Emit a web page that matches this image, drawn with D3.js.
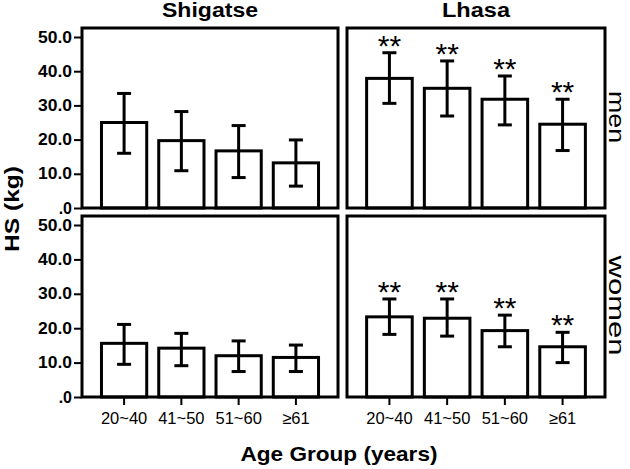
<!DOCTYPE html>
<html><head><meta charset="utf-8">
<script src="https://cdn.jsdelivr.net/npm/d3@7"></script>
<style>body{margin:0;background:#fff}svg{display:block}text{font-family:"Liberation Sans",Arial,sans-serif;fill:#000}</style>
</head><body><svg id="c" width="630" height="469"></svg>
<script>
const ageGroups = ["20~40", "41~50", "51~60", "≥61"];
const sites = ["Shigatse", "Lhasa"];
const sexes = ["men", "women"];
const yTicks = [0, 10, 20, 30, 40, 50];
const yTickLabels = [".0", "10.0", "20.0", "30.0", "40.0", "50.0"];

const shigatseMenMean  = [25.0, 19.7, 16.7, 13.2];
const shigatseMenLow   = [16.0, 10.9, 8.9, 6.4];
const shigatseMenHigh  = [33.5, 28.2, 24.1, 19.9];
const lhasaMenMean     = [37.9, 35.0, 31.8, 24.5];
const lhasaMenLow      = [30.6, 26.9, 24.3, 16.8];
const lhasaMenHigh     = [45.4, 43.0, 38.6, 31.8];
const shigatseWomenMean = [15.6, 14.2, 12.0, 11.5];
const shigatseWomenLow  = [9.5, 9.1, 7.4, 7.4];
const shigatseWomenHigh = [21.1, 18.5, 16.3, 15.1];
const lhasaWomenMean    = [23.3, 22.9, 19.3, 14.6];
const lhasaWomenLow     = [18.2, 17.7, 14.6, 10.0];
const lhasaWomenHigh    = [28.5, 28.5, 23.8, 18.8];
const shigatseMarks = ["", "", "", ""];
const lhasaMarks    = ["**", "**", "**", "**"];

const panels = [
  {row:0, col:0, mean:shigatseMenMean, low:shigatseMenLow, high:shigatseMenHigh, marks:shigatseMarks},
  {row:0, col:1, mean:lhasaMenMean, low:lhasaMenLow, high:lhasaMenHigh, marks:lhasaMarks},
  {row:1, col:0, mean:shigatseWomenMean, low:shigatseWomenLow, high:shigatseWomenHigh, marks:shigatseMarks},
  {row:1, col:1, mean:lhasaWomenMean, low:lhasaWomenLow, high:lhasaWomenHigh, marks:lhasaMarks}
];

const colX = [[82, 338], [347, 605]];
const rowY = [[28, 208], [216, 397]];
const svg = d3.select("#c");

panels.forEach(p => {
  const [x0, x1] = colX[p.col];
  const [y0, y1] = rowY[p.row];
  const x = d3.scaleBand().domain(ageGroups).range([x0, x1]).paddingInner(0.21).paddingOuter(0.34);
  const y = d3.scaleLinear().domain([0, 50 * (y1 - y0) / ((y1 - y0) - 9)]).range([y1, y0]);
  const g = svg.append("g");
  const data = ageGroups.map((a, i) => ({a, m:p.mean[i], lo:p.low[i], hi:p.high[i], mk:p.marks[i]}));

  g.selectAll("rect.bar").data(data).join("rect").attr("class","bar")
    .attr("x", d => x(d.a)).attr("width", x.bandwidth())
    .attr("y", d => y(d.m)).attr("height", d => y(0) - y(d.m))
    .attr("fill", "#fff").attr("stroke", "#000").attr("stroke-width", 3);

  const cx = d => x(d.a) + x.bandwidth() / 2;
  g.selectAll("line.err").data(data).join("line").attr("class","err")
    .attr("x1", cx).attr("x2", cx).attr("y1", d => y(d.lo)).attr("y2", d => y(d.hi))
    .attr("stroke", "#000").attr("stroke-width", 3);
  ["lo","hi"].forEach(k => {
    g.selectAll("line.cap"+k).data(data).join("line").attr("class","cap"+k)
      .attr("x1", d => cx(d) - 7).attr("x2", d => cx(d) + 7)
      .attr("y1", d => y(d[k])).attr("y2", d => y(d[k]))
      .attr("stroke", "#000").attr("stroke-width", 3);
  });
  g.selectAll("text.mk").data(data.filter(d => d.mk)).join("text").attr("class","mk")
    .attr("x", cx).attr("y", d => y(d.hi) + 3)
    .attr("text-anchor", "middle").attr("font-size", 30).text(d => d.mk);

  g.append("rect").attr("x", x0).attr("y", y0).attr("width", x1 - x0).attr("height", y1 - y0)
    .attr("fill", "none").attr("stroke", "#000").attr("stroke-width", 3);

  if (p.col === 0) {
    const ax = g.append("g").attr("transform", `translate(${x0},0)`)
      .call(d3.axisLeft(y).tickValues(yTicks).tickSize(8).tickPadding(2)
        .tickFormat((d, i) => yTickLabels[i]));
    ax.select(".domain").remove();
    ax.selectAll(".tick line").attr("stroke", "#000").attr("stroke-width", 2);
    ax.selectAll(".tick text").attr("font-size", 16).attr("font-weight", "bold")
      .attr("font-family", "Liberation Sans, Arial, sans-serif").attr("fill", "#000")
      .attr("textLength", (d, i) => i === 0 ? null : 34).attr("lengthAdjust", "spacingAndGlyphs");
  }
  if (p.row === 1) {
    const ax = g.append("g").attr("transform", `translate(0,${y1})`)
      .call(d3.axisBottom(x).tickSize(8).tickPadding(7));
    ax.select(".domain").remove();
    ax.selectAll(".tick line").attr("stroke", "#000").attr("stroke-width", 2);
    ax.selectAll(".tick text").attr("font-size", 16.5)
      .attr("font-family", "Liberation Sans, Arial, sans-serif").attr("fill", "#000");
  }
  if (p.row === 0) {
    svg.append("text").attr("x", (x0 + x1) / 2).attr("y", 17).attr("text-anchor", "middle")
      .attr("font-size", 20).attr("font-weight", "bold")
      .attr("textLength", p.col === 0 ? 96 : 68).attr("lengthAdjust", "spacingAndGlyphs")
      .text(sites[p.col]);
  }
  if (p.col === 1) {
    svg.append("text").attr("transform", `translate(609,${(y0 + y1) / 2 - 1}) rotate(90)`)
      .attr("text-anchor", "middle").attr("font-size", 22)
      .attr("textLength", p.row === 0 ? 52 : 100).attr("lengthAdjust", "spacingAndGlyphs")
      .text(sexes[p.row]);
  }
});

svg.append("text").attr("transform", "translate(19,209) rotate(-90)")
  .attr("text-anchor", "middle").attr("font-size", 21).attr("font-weight", "bold")
  .attr("textLength", 86).attr("lengthAdjust", "spacingAndGlyphs")
  .text("HS (kg)");
svg.append("text").attr("x", 339).attr("y", 461).attr("text-anchor", "middle")
  .attr("font-size", 21).attr("font-weight", "bold")
  .attr("textLength", 197).attr("lengthAdjust", "spacingAndGlyphs")
  .text("Age Group (years)");
</script></body></html>
